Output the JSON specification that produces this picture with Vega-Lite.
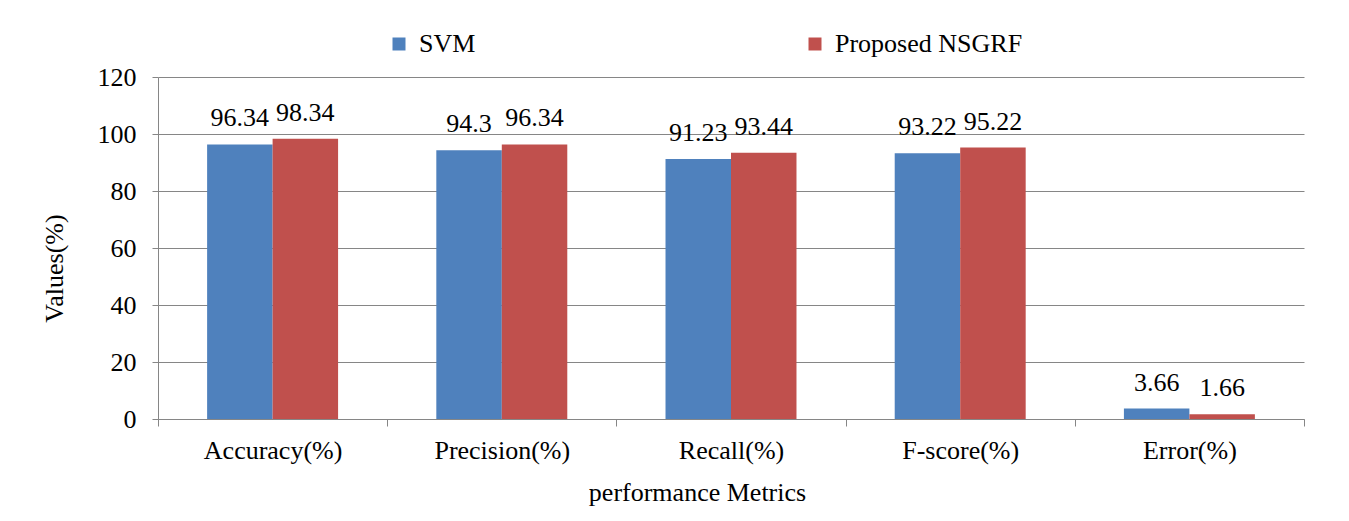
{
  "$schema": "https://vega.github.io/schema/vega-lite/v6.json",
  "autosize": "none",
  "width": 1146,
  "height": 342,
  "padding": {"left": 158, "top": 77, "right": 45, "bottom": 102},
  "background": "white",
  "config": {
    "font": "Liberation Serif",
    "view": {"stroke": null},
    "axis": {"labelFont": "Liberation Serif", "titleFont": "Liberation Serif", "labelColor": "black", "titleColor": "black", "titleFontWeight": "normal"},
    "legend": {"labelFont": "Liberation Serif"},
    "text": {"font": "Liberation Serif"}
  },
  "data": {
    "values": [
      {"metric": "Accuracy(%)", "model": "SVM", "value": 96.34},
      {"metric": "Accuracy(%)", "model": "Proposed NSGRF", "value": 98.34},
      {"metric": "Precision(%)", "model": "SVM", "value": 94.3},
      {"metric": "Precision(%)", "model": "Proposed NSGRF", "value": 96.34},
      {"metric": "Recall(%)", "model": "SVM", "value": 91.23},
      {"metric": "Recall(%)", "model": "Proposed NSGRF", "value": 93.44},
      {"metric": "F-score(%)", "model": "SVM", "value": 93.22},
      {"metric": "F-score(%)", "model": "Proposed NSGRF", "value": 95.22},
      {"metric": "Error(%)", "model": "SVM", "value": 3.66},
      {"metric": "Error(%)", "model": "Proposed NSGRF", "value": 1.66}
    ]
  },
  "encoding": {
    "x": {
      "field": "metric",
      "type": "nominal",
      "sort": ["Accuracy(%)", "Precision(%)", "Recall(%)", "F-score(%)", "Error(%)"],
      "scale": {"paddingInner": 0, "paddingOuter": 0},
      "axis": {
        "title": "performance Metrics",
        "titleFontSize": 26,
        "titleX": 539,
        "titleY": 81,
        "titleBaseline": "alphabetic",
        "titleAlign": "center",
        "labelAngle": 0,
        "labelFontSize": 26,
        "labelBaseline": "alphabetic",
        "labelPadding": 32,
        "labelLimit": 300,
        "tickBand": "extent",
        "tickSize": 7,
        "tickColor": "#868686",
        "domainColor": "#868686",
        "grid": false
      }
    },
    "xOffset": {
      "field": "model",
      "type": "nominal",
      "sort": ["SVM", "Proposed NSGRF"],
      "scale": {"paddingInner": 0, "paddingOuter": 0.75}
    },
    "y": {
      "field": "value",
      "type": "quantitative",
      "scale": {"domain": [0, 120]},
      "axis": {
        "title": "Values(%)",
        "titleFontSize": 26,
        "titleAngle": -90,
        "titleX": -96,
        "titleY": 191,
        "titleBaseline": "alphabetic",
        "titleAlign": "center",
        "values": [0, 20, 40, 60, 80, 100, 120],
        "labelFontSize": 26,
        "labelPadding": 16,
        "labelBaseline": "middle",
        "tickSize": 6,
        "tickColor": "#868686",
        "domainColor": "#868686",
        "grid": true,
        "gridColor": "#868686",
        "gridWidth": 1
      }
    }
  },
  "layer": [
    {
      "mark": {"type": "bar"},
      "encoding": {
        "color": {
          "field": "model",
          "type": "nominal",
          "scale": {"domain": ["SVM", "Proposed NSGRF"], "range": ["#4F81BD", "#C0504D"]},
          "legend": {
            "title": null,
            "orient": "none",
            "legendX": 228,
            "legendY": -46,
            "direction": "horizontal",
            "symbolType": "square",
            "symbolSize": 169,
            "symbolStrokeWidth": 0,
            "symbolOpacity": 1,
            "labelFont": "Liberation Serif",
            "labelFontSize": 26,
            "labelColor": "black",
            "labelOffset": 7,
            "labelLimit": 400,
            "columnPadding": 326,
            "padding": 0
          }
        }
      }
    },
    {
      "mark": {"type": "text", "font": "Liberation Serif", "baseline": "alphabetic", "dy": -18, "fontSize": 26, "color": "black"},
      "encoding": {"text": {"field": "value", "type": "quantitative"}}
    }
  ]
}
